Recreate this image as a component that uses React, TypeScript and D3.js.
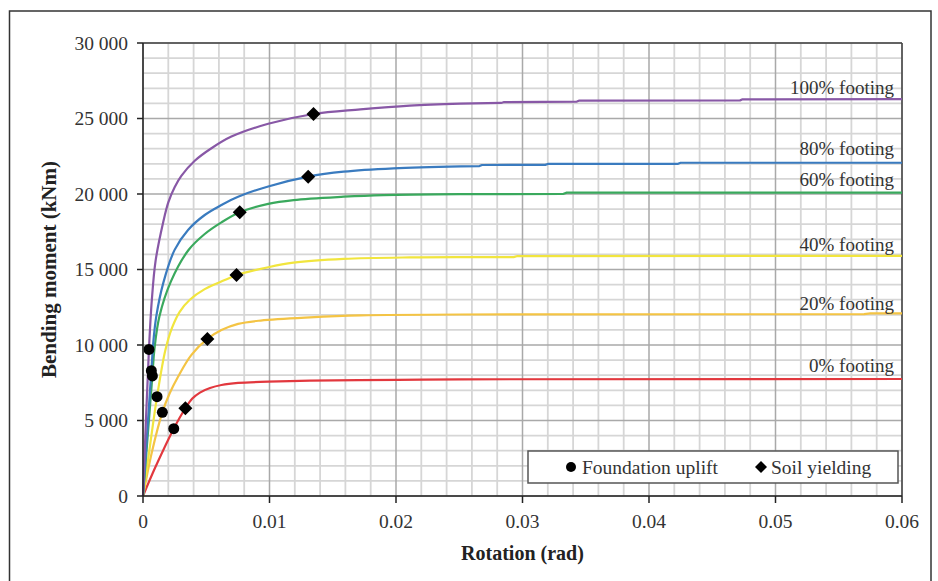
import React from "react";
import * as d3 from "d3";

// ---- data (rotation rad, bending moment kNm) ----
const seriesNames = ["0% footing", "20% footing", "40% footing", "60% footing", "80% footing", "100% footing"];
const seriesColors = ["#e2383e", "#f4c444", "#f1e53e", "#3aa95d", "#3a7bbf", "#8858a6"];

const curve0: [number, number][] = [[0, 0], [0.001, 1950], [0.00243, 4460], [0.00335, 5810], [0.0039, 6450], [0.0045, 6850], [0.0053, 7150], [0.0062, 7350], [0.00752, 7490], [0.0099, 7570], [0.0132, 7640], [0.0201, 7690], [0.0251, 7730], [0.06, 7750]];
const curve20: [number, number][] = [[0, 0], [0.0007, 2900], [0.00153, 5540], [0.00211, 6800], [0.00277, 7900], [0.00383, 9350], [0.00509, 10400], [0.0062, 10990], [0.00752, 11400], [0.0093, 11620], [0.0132, 11830], [0.0172, 11960], [0.0251, 12020], [0.057, 12040], [0.0575, 12090], [0.06, 12100]];
const curve40: [number, number][] = [[0, 0], [0.0005, 3000], [0.00111, 6580], [0.00177, 9670], [0.0023, 11150], [0.0029, 12200], [0.0037, 13000], [0.00488, 13700], [0.00646, 14300], [0.00739, 14620], [0.0099, 15150], [0.0119, 15450], [0.01586, 15700], [0.0211, 15800], [0.0251, 15815], [0.0293, 15820], [0.0296, 15890], [0.06, 15900]];
const curve60: [number, number][] = [[0, 0], [0.00074, 7950], [0.0009, 9700], [0.0013, 11900], [0.0022, 14200], [0.0036, 16290], [0.00488, 17350], [0.0062, 18120], [0.00765, 18790], [0.0099, 19350], [0.0119, 19600], [0.01586, 19820], [0.019, 19930], [0.0251, 19990], [0.0332, 20000], [0.0335, 20090], [0.06, 20090]];
const curve80: [number, number][] = [[0, 0], [0.00066, 8300], [0.00085, 10500], [0.00105, 11900], [0.0016, 14100], [0.0025, 16300], [0.00356, 17620], [0.00488, 18610], [0.0062, 19270], [0.00752, 19820], [0.0099, 20500], [0.01306, 21150], [0.01586, 21480], [0.0198, 21700], [0.0251, 21830], [0.0266, 21850], [0.0268, 21920], [0.0318, 21930], [0.032, 21990], [0.0423, 22000], [0.0425, 22070], [0.06, 22070]];
const curve100: [number, number][] = [[0, 0], [0.00047, 9710], [0.0007, 13000], [0.001, 15600], [0.0016, 18150], [0.002, 19450], [0.0025, 20450], [0.00303, 21200], [0.00409, 22200], [0.00541, 23030], [0.00699, 23800], [0.0099, 24650], [0.01348, 25300], [0.01718, 25600], [0.0211, 25850], [0.0251, 25990], [0.0283, 26030], [0.0285, 26080], [0.0343, 26120], [0.0345, 26190], [0.0472, 26200], [0.0474, 26270], [0.06, 26280]];
const curves = [curve0, curve20, curve40, curve60, curve80, curve100];

// rotation after which the plateau is drawn as straight segments (small steps)
const plateauStart = 0.0251;

const upliftRot = [0.00047, 0.00066, 0.00074, 0.00111, 0.00153, 0.00243];
const upliftM = [9710, 8300, 7950, 6580, 5540, 4460];
const yieldRot = [0.01348, 0.01306, 0.00765, 0.00739, 0.00509, 0.00335];
const yieldM = [25300, 21150, 18790, 14640, 10400, 5810];

const labelM = [8200, 12300, 16250, 20550, 22600, 26650];

const xTicks = [0, 0.01, 0.02, 0.03, 0.04, 0.05, 0.06];
const yTicks = [0, 5000, 10000, 15000, 20000, 25000, 30000];

// ---- layout ----
const W = 938, H = 581;
const left = 143, right = 902, top = 43, bottom = 496;
const FONT = "'Liberation Serif', 'Times New Roman', serif";

export default function App() {
  const x = d3.scaleLinear().domain([0, 0.06]).range([left, right]);
  const y = d3.scaleLinear().domain([0, 30000]).range([bottom, top]);
  const smooth = d3.line<[number, number]>().x(d => x(d[0])).y(d => y(d[1])).curve(d3.curveCatmullRom.alpha(0.5));
  const straight = d3.line<[number, number]>().x(d => x(d[0])).y(d => y(d[1]));
  const loc = d3.formatLocale({ decimal: ".", thousands: " ", grouping: [3], currency: ["", ""] });
  const yFmt = loc.format(",");
  const xFmt = (d: number) => (d === 0 ? "0" : d3.format(".2f")(d));

  const xMinor = d3.range(0, 31).map(i => i * 0.002);
  const yMinor = d3.range(0, 31).map(i => i * 1000);

  const diamond = (cx: number, cy: number, r: number) => `M${cx},${cy - r}L${cx + r},${cy}L${cx},${cy + r}L${cx - r},${cy}Z`;

  const curvePath = (c: [number, number][]) => {
    const a = c.filter(p => p[0] <= plateauStart + 1e-9);
    const b = c.filter(p => p[0] >= plateauStart - 1e-9);
    return (smooth(a) || "") + (straight(b) || "");
  };

  return (
    <div style={{ position: "fixed", left: 0, top: 0 }}>
      <svg width={W} height={H} style={{ display: "block" }} fontFamily={FONT}>
        <rect x={0} y={0} width={W} height={H} fill="#fff" />
        <rect x={9.5} y={11} width={921.5} height={590} fill="none" stroke="#333" strokeWidth={1.5} />
        {/* grid minor */}
        {xMinor.map((v, i) => i % 5 !== 0 ? <line key={"xm" + i} x1={x(v)} x2={x(v)} y1={top} y2={bottom} stroke="#d6d6d6" strokeWidth={1.8} /> : null)}
        {yMinor.map((v, i) => i % 5 !== 0 ? <line key={"ym" + i} x1={left} x2={right} y1={y(v)} y2={y(v)} stroke="#d6d6d6" strokeWidth={1.8} /> : null)}
        {xMinor.map((v, i) => i % 5 === 0 ? <line key={"xM" + i} x1={x(v)} x2={x(v)} y1={top} y2={bottom} stroke="#a9a9a9" strokeWidth={1.5} /> : null)}
        {yMinor.map((v, i) => i % 5 === 0 ? <line key={"yM" + i} x1={left} x2={right} y1={y(v)} y2={y(v)} stroke="#a9a9a9" strokeWidth={1.5} /> : null)}
        {/* frame */}
        <line x1={left} x2={right} y1={top} y2={top} stroke="#444" strokeWidth={1.5} />
        <line x1={right} x2={right} y1={top} y2={bottom} stroke="#444" strokeWidth={1.5} />
        {/* curves */}
        {curves.map((c, i) => (
          <path key={"c" + i} d={curvePath(c)} fill="none" stroke={seriesColors[i]} strokeWidth={2.2} strokeLinejoin="round" />
        ))}
        {/* markers */}
        {upliftRot.map((r, i) => (
          <circle key={"u" + i} cx={x(r)} cy={y(upliftM[i])} r={5.5} fill="#000" />
        ))}
        {yieldRot.map((r, i) => (
          <path key={"s" + i} d={diamond(x(r), y(yieldM[i]), 7)} fill="#000" />
        ))}
        {/* series labels */}
        {seriesNames.map((n, i) => (
          <text key={"l" + i} x={894} y={y(labelM[i])} textAnchor="end" fontSize={19} fill="#333">{n}</text>
        ))}
        {/* axes */}
        <line x1={left} x2={left} y1={top} y2={bottom} stroke="#222" strokeWidth={1.5} />
        <line x1={left} x2={right} y1={bottom} y2={bottom} stroke="#222" strokeWidth={1.5} />
        {yTicks.map(t => (
          <g key={"yt" + t}>
            <line x1={left - 6} x2={left} y1={y(t)} y2={y(t)} stroke="#222" strokeWidth={1.5} />
            <text x={128} y={y(t) + 6.5} textAnchor="end" fontSize={19.5} fill="#333">{yFmt(t)}</text>
          </g>
        ))}
        {xTicks.map(t => (
          <g key={"xt" + t}>
            <line x1={x(t)} x2={x(t)} y1={bottom} y2={bottom + 7} stroke="#222" strokeWidth={1.5} />
            <text x={x(t)} y={528} textAnchor="middle" fontSize={19.5} fill="#333">{xFmt(t)}</text>
          </g>
        ))}
        <text x={(left + right) / 2} y={560} textAnchor="middle" fontSize={20} fontWeight="bold" fill="#222">Rotation (rad)</text>
        <text transform={`translate(56,${(top + bottom) / 2}) rotate(-90)`} textAnchor="middle" fontSize={21} fontWeight="bold" fill="#222">Bending moment (kNm)</text>
        {/* legend */}
        <rect x={528} y={451} width={370} height={32} fill="#fff" stroke="#555" strokeWidth={1.5} />
        <circle cx={571} cy={467} r={5} fill="#000" />
        <text x={582} y={473.5} fontSize={19.5} fill="#333">Foundation uplift</text>
        <path d={diamond(761, 467, 6)} fill="#000" />
        <text x={771} y={473.5} fontSize={19.5} fill="#333">Soil yielding</text>
      </svg>
    </div>
  );
}
